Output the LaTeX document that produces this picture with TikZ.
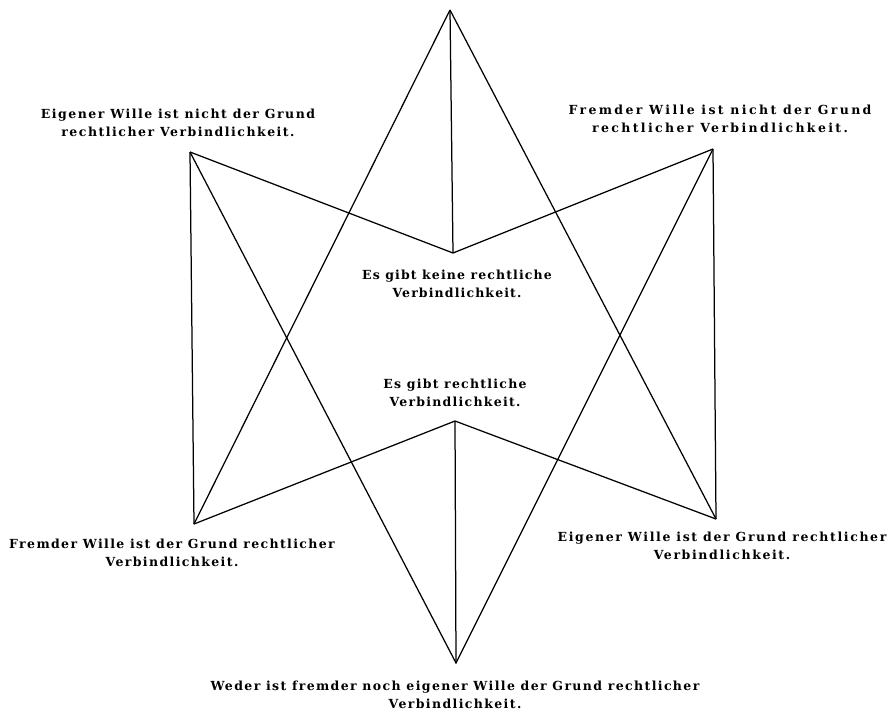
\documentclass[tikz,border=0pt]{standalone}
\usepackage{fontspec}
\setmainfont{DejaVu Serif}
\begin{document}
\begin{tikzpicture}[x=1pt,y=-1pt,
  edge/.style={line width=1.25pt,black},
  lbl/.style={font=\bfseries\fontsize{12.5}{18}\selectfont\addfontfeature{LetterSpace=#1},align=center,inner sep=0pt},
  lbl/.default=6]
\useasboundingbox (0,0) rectangle (896,713);
\coordinate (T) at (450,10);
\coordinate (UL) at (190,152);
\coordinate (UR) at (713,149);
\coordinate (CU) at (453,253);
\coordinate (CL) at (455,421);
\coordinate (LL) at (194,524);
\coordinate (LR) at (716,519);
\coordinate (B) at (456,663);
\draw[edge] (T) -- (CU);
\draw[edge] (T) -- (LL);
\draw[edge] (T) -- (LR);
\draw[edge] (UL) -- (CU) -- (UR);
\draw[edge] (UL) -- (LL);
\draw[edge] (UR) -- (LR);
\draw[edge] (UL) -- (B) -- (UR);
\draw[edge] (LL) -- (CL) -- (LR);
\draw[edge] (CL) -- (B);
\node[lbl=12] (tUL) at (178,123) {Eigener Wille ist nicht der Grund\\rechtlicher Verbindlichkeit.};
\node[lbl=19] (tUR) at (720,119) {Fremder Wille ist nicht der Grund\\rechtlicher Verbindlichkeit.};
\node[lbl=9] (tCU) at (457,284) {Es gibt keine rechtliche\\Verbindlichkeit.};
\node[lbl=10] (tCL) at (455,393) {Es gibt rechtliche\\Verbindlichkeit.};
\node[lbl=11] (tLL) at (172,553) {Fremder Wille ist der Grund rechtlicher\\Verbindlichkeit.};
\node[lbl=13] (tLR) at (722,546) {Eigener Wille ist der Grund rechtlicher\\Verbindlichkeit.};
\node[lbl=11] (tB) at (455,695) {Weder ist fremder noch eigener Wille der Grund rechtlicher\\Verbindlichkeit.};
\end{tikzpicture}
\end{document}
